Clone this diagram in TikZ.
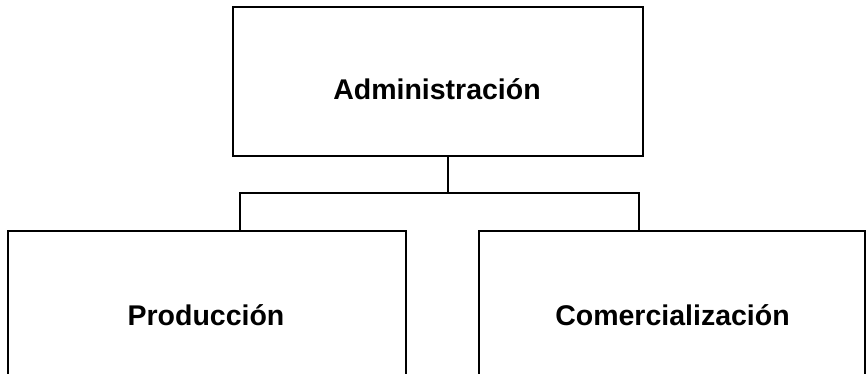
\documentclass[tikz,border=0pt]{standalone}
\usepackage{fontspec}
\setmainfont{Liberation Sans}
\begin{document}
\begin{tikzpicture}[x=1pt,y=-1pt,
  box/.style={draw=black,line width=1.6pt,rectangle,inner sep=0pt,outer sep=0pt,anchor=north west},
  lbl/.style={font=\fontsize{28.5}{30}\selectfont\bfseries,anchor=base,inner sep=0pt},
  conn/.style={draw=black,line width=1.6pt}]
\useasboundingbox (0,0) rectangle (866,374);
\clip (0,0) rectangle (866,374);
\node[box,minimum width=410pt,minimum height=149pt] (top) at (233,7) {};
\node[box,minimum width=398pt,minimum height=180pt] (prod) at (8,231) {};
\node[box,minimum width=386pt,minimum height=180pt] (com) at (479,231) {};
\node[lbl] (tl) at (437,100) {Administración};
\node[lbl] (pl) at (206,325) {Producción};
\node[lbl] (cl) at (672.5,325) {Comercialización};
\coordinate (j) at (448,193);
\coordinate (jl) at (240,193);
\coordinate (jr) at (639,193);
\draw[conn] (top.south -| j) -- (j);
\draw[conn] (prod.north -| jl) -- (jl) -- (jr) -- (com.north -| jr);
\end{tikzpicture}
\end{document}
